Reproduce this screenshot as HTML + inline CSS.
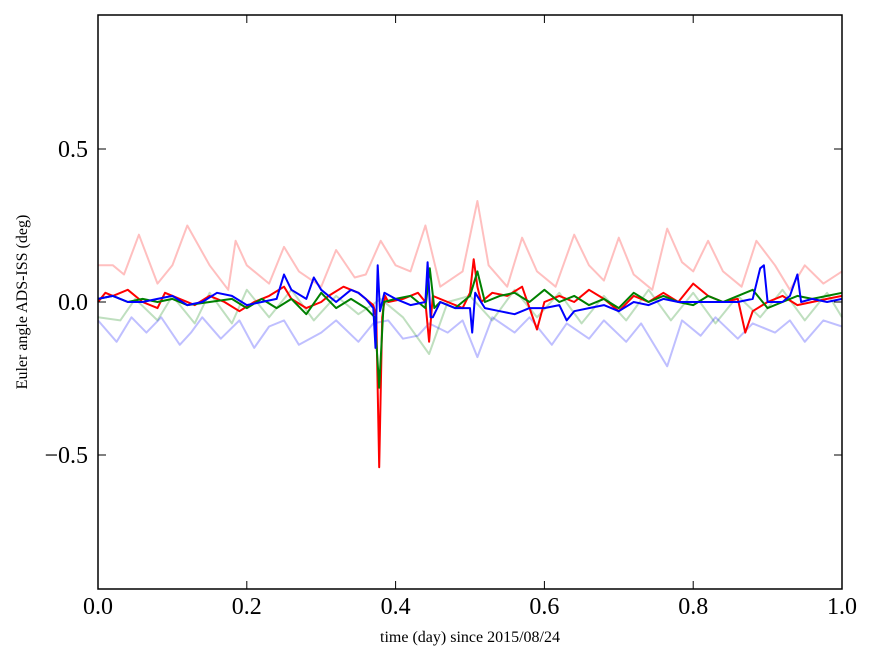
<!DOCTYPE html>
<html><head><meta charset="utf-8"><style>
body{margin:0;background:#fff;}
svg text{font-family:"Liberation Serif",serif;}
</style></head><body>
<svg id="chart" width="875" height="662" xmlns="http://www.w3.org/2000/svg">
<rect width="875" height="662" fill="#fff"/>
<g id="series"></g>
<rect x="98" y="15" width="744" height="574" fill="none" stroke="#000" stroke-width="1.5"/>
<g id="axes"></g>
<text x="470" y="642" font-size="16" text-anchor="middle">time (day) since 2015/08/24</text>
<text x="27" y="302" font-size="16" text-anchor="middle" transform="rotate(-90 27 302)">Euler angle ADS-ISS (deg)</text>
</svg>
<script>
const xTicks=[0,0.2,0.4,0.6,0.8,1.0];
const xTickLabels=["0.0","0.2","0.4","0.6","0.8","1.0"];
const yTicks=[0.5,0,-0.5];
const yTickLabels=["0.5","0.0","\u22120.5"];
const lightRedT=[0,0.02,0.035,0.055,0.08,0.1,0.12,0.15,0.175,0.185,0.2,0.23,0.25,0.27,0.3,0.32,0.345,0.36,0.38,0.4,0.42,0.44,0.46,0.49,0.51,0.525,0.55,0.57,0.59,0.615,0.64,0.66,0.68,0.7,0.72,0.745,0.765,0.785,0.8,0.82,0.84,0.865,0.885,0.91,0.93,0.95,0.975,1.0];
const lightRedV=[0.12,0.12,0.09,0.22,0.06,0.12,0.25,0.12,0.04,0.2,0.12,0.06,0.18,0.1,0.05,0.17,0.08,0.09,0.2,0.12,0.1,0.25,0.05,0.1,0.33,0.12,0.05,0.21,0.1,0.05,0.22,0.12,0.07,0.21,0.09,0.04,0.24,0.13,0.1,0.2,0.1,0.05,0.2,0.12,0.04,0.12,0.06,0.1];
const lightGreenT=[0,0.03,0.05,0.08,0.1,0.13,0.15,0.18,0.2,0.23,0.26,0.29,0.32,0.35,0.38,0.41,0.445,0.47,0.5,0.53,0.56,0.59,0.62,0.65,0.68,0.71,0.74,0.77,0.8,0.83,0.86,0.89,0.92,0.95,0.98,1.0];
const lightGreenV=[-0.05,-0.06,0.01,-0.06,0.02,-0.07,0.03,-0.07,0.04,-0.05,0.04,-0.06,0.02,-0.04,0.01,-0.05,-0.17,0.0,0.02,-0.06,0.04,-0.05,0.03,-0.07,0.02,-0.06,0.04,-0.06,0.03,-0.07,0.02,-0.05,0.04,-0.06,0.03,-0.05];
const lightBlueT=[0,0.025,0.045,0.065,0.085,0.11,0.125,0.14,0.165,0.19,0.21,0.23,0.25,0.27,0.3,0.32,0.35,0.37,0.39,0.41,0.43,0.445,0.47,0.49,0.51,0.53,0.56,0.58,0.61,0.63,0.66,0.68,0.71,0.73,0.765,0.785,0.81,0.83,0.86,0.88,0.91,0.93,0.95,0.975,1.0];
const lightBlueV=[-0.06,-0.13,-0.05,-0.1,-0.05,-0.14,-0.1,-0.05,-0.12,-0.06,-0.15,-0.08,-0.06,-0.14,-0.1,-0.06,-0.13,-0.07,-0.06,-0.12,-0.11,-0.07,-0.1,-0.06,-0.18,-0.05,-0.1,-0.05,-0.14,-0.07,-0.12,-0.06,-0.13,-0.07,-0.21,-0.06,-0.11,-0.05,-0.12,-0.07,-0.1,-0.06,-0.13,-0.06,-0.08];
const redT=[0,0.01,0.02,0.04,0.06,0.08,0.09,0.11,0.13,0.15,0.17,0.19,0.21,0.23,0.25,0.26,0.28,0.3,0.31,0.33,0.35,0.37,0.374,0.378,0.382,0.386,0.39,0.41,0.43,0.44,0.445,0.45,0.47,0.49,0.5,0.505,0.51,0.515,0.53,0.55,0.57,0.59,0.6,0.62,0.64,0.66,0.68,0.7,0.72,0.74,0.76,0.78,0.8,0.82,0.84,0.86,0.87,0.88,0.9,0.92,0.94,0.96,0.98,1.0];
const redV=[0,0.03,0.02,0.04,0.0,-0.02,0.03,0.01,-0.01,0.02,0.0,-0.03,0.0,0.02,0.05,0.01,-0.02,0.0,0.02,0.05,0.03,-0.01,-0.05,-0.54,-0.05,0.02,0.0,0.01,0.03,0.0,-0.13,0.02,0.0,-0.02,0.03,0.14,0.05,0.0,0.03,0.02,0.05,-0.09,0.0,0.02,0.0,0.04,0.01,-0.03,0.02,0.0,0.03,0.0,0.06,0.02,0.0,0.01,-0.1,-0.03,0.0,0.02,-0.01,0.0,0.01,0.02];
const greenT=[0,0.02,0.04,0.06,0.08,0.1,0.12,0.15,0.18,0.2,0.22,0.24,0.26,0.28,0.3,0.32,0.34,0.36,0.372,0.378,0.384,0.4,0.42,0.44,0.446,0.452,0.46,0.48,0.5,0.51,0.52,0.54,0.56,0.58,0.6,0.62,0.64,0.66,0.68,0.7,0.72,0.74,0.76,0.78,0.8,0.82,0.84,0.86,0.88,0.9,0.92,0.94,0.96,0.98,1.0];
const greenV=[0.01,0.02,0.0,0.01,0.0,0.01,-0.01,0.0,0.01,-0.02,0.01,-0.02,0.01,-0.04,0.03,-0.02,0.01,-0.02,-0.05,-0.28,0.0,0.01,0.02,-0.02,0.11,-0.02,0.0,-0.02,0.02,0.1,0.0,0.02,0.03,0.0,0.04,0.0,0.02,-0.01,0.01,-0.02,0.03,0.0,0.02,0.0,-0.01,0.02,0.0,0.02,0.04,-0.02,0.0,0.02,0.01,0.02,0.03];
const blueT=[0,0.02,0.04,0.06,0.08,0.1,0.12,0.14,0.16,0.18,0.2,0.22,0.24,0.25,0.26,0.28,0.29,0.3,0.32,0.34,0.35,0.36,0.37,0.373,0.376,0.379,0.385,0.4,0.42,0.44,0.443,0.447,0.45,0.46,0.48,0.5,0.503,0.507,0.52,0.54,0.56,0.58,0.6,0.62,0.63,0.64,0.66,0.68,0.7,0.72,0.74,0.76,0.78,0.8,0.82,0.84,0.86,0.88,0.89,0.895,0.9,0.92,0.93,0.94,0.945,0.96,0.98,1.0];
const blueV=[0.01,0.02,0.0,0.0,0.01,0.02,-0.01,0.0,0.03,0.02,-0.01,0.0,0.01,0.09,0.04,0.01,0.08,0.04,0.0,0.04,0.03,0.01,-0.02,-0.15,0.12,-0.03,0.03,0.01,-0.01,0.0,0.13,-0.05,-0.05,0.0,-0.02,-0.02,-0.1,0.03,-0.02,-0.03,-0.04,-0.02,-0.02,-0.01,-0.06,-0.03,-0.02,-0.01,-0.03,0.0,-0.01,0.01,0.0,0.0,0.0,0.0,0.0,0.01,0.11,0.12,0.0,0.0,0.02,0.09,0.0,0.01,0.0,0.01];
const X0=98,X1=842,Y0=15,Y1=589;
function xs(t){return X0+t*(X1-X0);}
function ys(v){return 302-v*306;}
const NS="http://www.w3.org/2000/svg";
const sg=document.getElementById('series');
function line(T,V,color,op,name){
  const p=document.createElementNS(NS,'path');
  let d='';
  for(let i=0;i<T.length;i++){d+=(i?'L':'M')+xs(T[i]).toFixed(1)+' '+ys(V[i]).toFixed(1);}
  p.setAttribute('d',d);p.setAttribute('fill','none');p.setAttribute('stroke',color);
  p.setAttribute('stroke-width','2');p.setAttribute('stroke-opacity',op);p.setAttribute('stroke-linejoin','round');
  
  
  sg.appendChild(p);
}
line(lightRedT,lightRedV,'#f00','0.25','light-red-series');
line(lightGreenT,lightGreenV,'#008000','0.25','light-green-series');
line(lightBlueT,lightBlueV,'#00f','0.25','light-blue-series');
line(redT,redV,'#f00','1','red-series');
line(greenT,greenV,'#008000','1','green-series');
line(blueT,blueV,'#00f','1','blue-series');
const ax=document.getElementById('axes');
xTicks.forEach((t,i)=>{
  const x=xs(t);
  [[Y1,Y1-8],[Y0,Y0+8]].forEach(a=>{const l=document.createElementNS(NS,'line');l.setAttribute('x1',x);l.setAttribute('x2',x);l.setAttribute('y1',a[0]);l.setAttribute('y2',a[1]);l.setAttribute('stroke','#000');
  
  
  ax.appendChild(l);});
  const tx=document.createElementNS(NS,'text');tx.setAttribute('x',x);tx.setAttribute('y',614);tx.setAttribute('font-size','24');tx.setAttribute('text-anchor','middle');tx.textContent=xTickLabels[i];
  
  
  ax.appendChild(tx);
});
yTicks.forEach((v,i)=>{
  const y=ys(v);
  [[X0,X0+8],[X1,X1-8]].forEach(a=>{const l=document.createElementNS(NS,'line');l.setAttribute('x1',a[0]);l.setAttribute('x2',a[1]);l.setAttribute('y1',y);l.setAttribute('y2',y);l.setAttribute('stroke','#000');
  
  
  ax.appendChild(l);});
  const tx=document.createElementNS(NS,'text');tx.setAttribute('x',88);tx.setAttribute('y',y+8);tx.setAttribute('font-size','24');tx.setAttribute('text-anchor','end');tx.textContent=yTickLabels[i];
  
  
  ax.appendChild(tx);
});
</script>
</body></html>
